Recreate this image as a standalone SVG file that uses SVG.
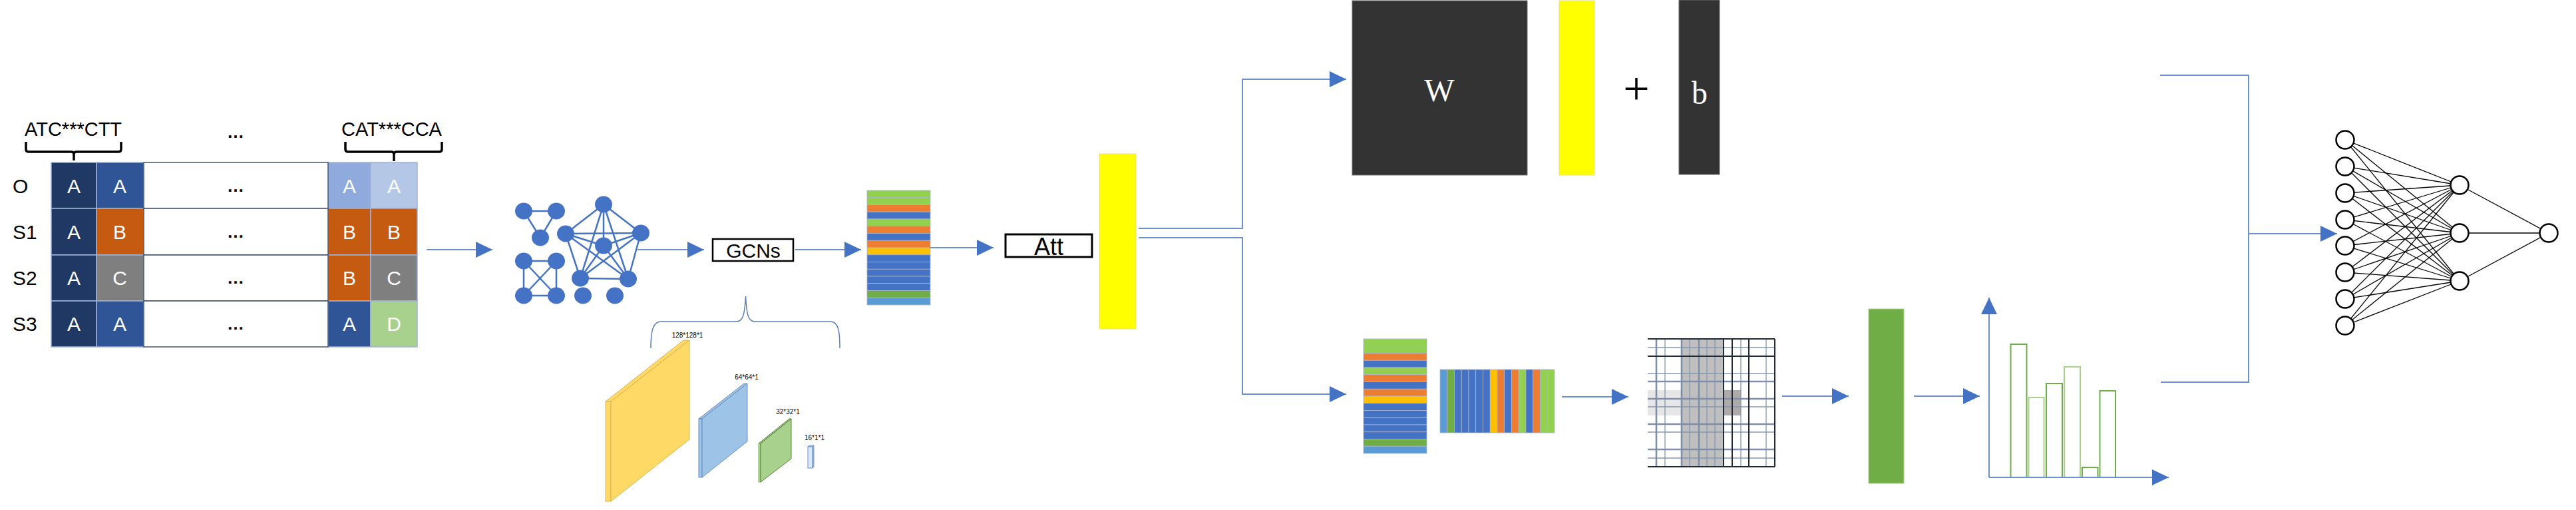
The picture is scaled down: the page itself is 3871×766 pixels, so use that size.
<svg xmlns="http://www.w3.org/2000/svg" xmlns:xlink="http://www.w3.org/1999/xlink" width="3871" height="766" viewBox="0 0 3871 766">
<style>
.lbl{font-family:"Liberation Sans",Arial,sans-serif;fill:#000}
.cell{font-family:"Liberation Sans",Arial,sans-serif;font-size:30px;fill:#fff;text-anchor:middle}
.row{font-family:"Liberation Sans",Arial,sans-serif;font-size:30px;fill:#000}
.dots{font-family:"Liberation Sans",Arial,sans-serif;font-size:26px;font-weight:bold;fill:#000;text-anchor:middle}
.ser{font-family:"Liberation Serif","Times New Roman",serif;text-anchor:middle}
.conn{fill:none;stroke:#6F8FCF;stroke-width:2}
.gnode{fill:#4472C4}
.gedge{stroke:#4472C4;stroke-width:2.5}
.nn{fill:#fff;stroke:#000;stroke-width:2.5}
.nnl{stroke:#000;stroke-width:1.3}
.st{stroke:#A9B6CE;stroke-width:0.8}
.brk{fill:none;stroke:#000;stroke-width:3.5}
.slab{font-family:"Liberation Sans",Arial,sans-serif;font-size:10px;fill:#000;text-anchor:middle}
.bar{fill:#fff;stroke-width:2}
</style>
<defs>
<marker id="ah" markerUnits="userSpaceOnUse" markerWidth="25" markerHeight="24" viewBox="0 0 25 24" refX="25" refY="12" orient="auto">
<path d="M0,0 L25,12 L0,24 z" fill="#4472C4"/>
</marker>
<g id="stripesV">
<rect class="st" x="0" y="0" width="95" height="10.75" fill="#92D050"/>
<rect class="st" x="0" y="10.75" width="95" height="10.75" fill="#92D050"/>
<rect class="st" x="0" y="21.5" width="95" height="10.75" fill="#ED7D31"/>
<rect class="st" x="0" y="32.25" width="95" height="10.75" fill="#4472C4"/>
<rect class="st" x="0" y="43" width="95" height="10.75" fill="#92D050"/>
<rect class="st" x="0" y="53.75" width="95" height="10.75" fill="#ED7D31"/>
<rect class="st" x="0" y="64.5" width="95" height="10.75" fill="#4472C4"/>
<rect class="st" x="0" y="75.25" width="95" height="10.75" fill="#ED7D31"/>
<rect class="st" x="0" y="86" width="95" height="10.75" fill="#FFC000"/>
<rect class="st" x="0" y="96.75" width="95" height="10.75" fill="#4472C4"/>
<rect class="st" x="0" y="107.5" width="95" height="10.75" fill="#4472C4"/>
<rect class="st" x="0" y="118.25" width="95" height="10.75" fill="#4472C4"/>
<rect class="st" x="0" y="129" width="95" height="10.75" fill="#4472C4"/>
<rect class="st" x="0" y="139.75" width="95" height="10.75" fill="#4472C4"/>
<rect class="st" x="0" y="150.5" width="95" height="10.75" fill="#70AD47"/>
<rect class="st" x="0" y="161.25" width="95" height="10.75" fill="#5B9BD5"/>
</g>
</defs>
<rect x="0" y="0" width="3871" height="766" fill="#fff"/>

<g id="sequence-table">
<text class="lbl" x="37" y="204" font-size="29">ATC***CTT</text>
<text class="lbl" x="513" y="204" font-size="29">CAT***CCA</text>
<path class="brk" d="M39,213 V224 Q39,228 43,228 H107 Q111,228 111,232 V241 M111,232 Q111,228 115,228 H178 Q182,228 182,224 V213"/>
<path class="brk" d="M519,213 V224 Q519,228 523,228 H588 Q592,228 592,232 V242 M592,232 Q592,228 596,228 H660 Q664,228 664,224 V213"/>
<text class="dots" x="354" y="207">…</text>
<g stroke="#9FB3D6" stroke-width="1.5">
<rect x="77" y="244" width="68" height="69" fill="#1F3864"/>
<rect x="145" y="244" width="71" height="69" fill="#2F5597"/>
<rect x="493" y="244" width="64" height="69" fill="#8FAADC"/>
<rect x="557" y="244" width="70" height="69" fill="#B4C7E7"/>
<rect x="77" y="313" width="68" height="70" fill="#1F3864"/>
<rect x="145" y="313" width="71" height="70" fill="#C55A11"/>
<rect x="493" y="313" width="64" height="70" fill="#C55A11"/>
<rect x="557" y="313" width="70" height="70" fill="#C55A11"/>
<rect x="77" y="383" width="68" height="69" fill="#1F3864"/>
<rect x="145" y="383" width="71" height="69" fill="#7F7F7F"/>
<rect x="493" y="383" width="64" height="69" fill="#C55A11"/>
<rect x="557" y="383" width="70" height="69" fill="#7F7F7F"/>
<rect x="77" y="452" width="68" height="69" fill="#1F3864"/>
<rect x="145" y="452" width="71" height="69" fill="#2F5597"/>
<rect x="493" y="452" width="64" height="69" fill="#2F5597"/>
<rect x="557" y="452" width="70" height="69" fill="#A9D18E"/>
</g>
<g fill="#fff" stroke="#44546A" stroke-width="1.5">
<rect x="216" y="244" width="277" height="69"/>
<rect x="216" y="313" width="277" height="70"/>
<rect x="216" y="383" width="277" height="69"/>
<rect x="216" y="452" width="277" height="69"/>
</g>
<text class="row" x="19" y="290">O</text>
<text class="row" x="19" y="359">S1</text>
<text class="row" x="19" y="428">S2</text>
<text class="row" x="19" y="497">S3</text>
<text class="cell" x="111" y="290">A</text><text class="cell" x="180" y="290">A</text><text class="dots" x="354" y="288">…</text><text class="cell" x="525" y="290">A</text><text class="cell" x="592" y="290">A</text>
<text class="cell" x="111" y="359">A</text><text class="cell" x="180" y="359">B</text><text class="dots" x="354" y="357">…</text><text class="cell" x="525" y="359">B</text><text class="cell" x="592" y="359">B</text>
<text class="cell" x="111" y="428">A</text><text class="cell" x="180" y="428">C</text><text class="dots" x="354" y="426">…</text><text class="cell" x="525" y="428">B</text><text class="cell" x="592" y="428">C</text>
<text class="cell" x="111" y="497">A</text><text class="cell" x="180" y="497">A</text><text class="dots" x="354" y="495">…</text><text class="cell" x="525" y="497">A</text><text class="cell" x="592" y="497">D</text>
</g>

<g id="graph">
<g class="gedge">
<line x1="787" y1="317" x2="836" y2="317"/><line x1="787" y1="317" x2="812" y2="357"/><line x1="836" y1="317" x2="812" y2="357"/>
<line x1="787" y1="392" x2="836" y2="392"/><line x1="787" y1="392" x2="787" y2="444"/><line x1="836" y1="392" x2="836" y2="444"/><line x1="787" y1="444" x2="836" y2="444"/><line x1="787" y1="392" x2="836" y2="444"/><line x1="836" y1="392" x2="787" y2="444"/>
<line x1="907" y1="307" x2="850" y2="351"/><line x1="907" y1="307" x2="963" y2="350"/><line x1="907" y1="307" x2="907" y2="369"/><line x1="907" y1="307" x2="872" y2="418"/><line x1="907" y1="307" x2="944" y2="419"/>
<line x1="850" y1="351" x2="963" y2="350"/><line x1="850" y1="351" x2="907" y2="369"/><line x1="850" y1="351" x2="872" y2="418"/><line x1="850" y1="351" x2="944" y2="419"/>
<line x1="963" y1="350" x2="907" y2="369"/><line x1="963" y1="350" x2="872" y2="418"/><line x1="963" y1="350" x2="944" y2="419"/>
<line x1="907" y1="369" x2="872" y2="418"/><line x1="907" y1="369" x2="944" y2="419"/><line x1="872" y1="418" x2="944" y2="419"/>
</g>
<g class="gnode">
<ellipse cx="787" cy="317" rx="13" ry="12.5"/><ellipse cx="836" cy="317" rx="13" ry="12.5"/><ellipse cx="812" cy="357" rx="13" ry="12.5"/>
<ellipse cx="787" cy="392" rx="13" ry="12.5"/><ellipse cx="836" cy="392" rx="13" ry="12.5"/><ellipse cx="787" cy="444" rx="13" ry="12.5"/><ellipse cx="836" cy="444" rx="13" ry="12.5"/>
<ellipse cx="876" cy="444" rx="13" ry="12.5"/><ellipse cx="924" cy="444" rx="13" ry="12.5"/>
<ellipse cx="907" cy="307" rx="13" ry="12.5"/><ellipse cx="850" cy="351" rx="13" ry="12.5"/><ellipse cx="963" cy="350" rx="13" ry="12.5"/><ellipse cx="907" cy="369" rx="13" ry="12.5"/><ellipse cx="872" cy="418" rx="13" ry="12.5"/><ellipse cx="944" cy="419" rx="13" ry="12.5"/>
</g>
</g>

<g id="gcns">
<rect x="1071" y="359" width="121" height="33" fill="#fff" stroke="#000" stroke-width="2.5"/>
<text class="lbl" x="1132" y="387" font-size="30" text-anchor="middle">GCNs</text>
</g>

<g id="gcn-layers">
<path d="M978,523 C978,498 981,483 993,483 L1106,483 C1116,483 1119,475 1120.5,445 C1122,475 1125,483 1135,483 L1248,483 C1260,483 1262,498 1262,523" fill="none" stroke="#5B7DB5" stroke-width="1.5"/>
<polygon points="910,603 918,603 1036,511 1027,511" fill="#FFD966" stroke="#D6B656" stroke-width="1"/>
<rect x="910" y="603" width="8" height="150" fill="#FFD966" stroke="#D6B656" stroke-width="1"/>
<polygon points="918,603 1036,511 1036,660 918,753" fill="#FFD966" stroke="#D6B656" stroke-width="1"/>
<text class="slab" x="1033" y="507">128*128*1</text>
<polygon points="1050,629 1055,629 1123,576 1118,576" fill="#9DC3E6" stroke="#6C8EBF" stroke-width="1"/>
<rect x="1050" y="629" width="5" height="88" fill="#9DC3E6" stroke="#6C8EBF" stroke-width="1"/>
<polygon points="1055,629 1123,576 1123,663 1055,717" fill="#9DC3E6" stroke="#6C8EBF" stroke-width="1"/>
<text class="slab" x="1122" y="570">64*64*1</text>
<polygon points="1140,666 1143,666 1189,629 1186,629" fill="#A9D18E" stroke="#548235" stroke-width="1"/>
<rect x="1140" y="666" width="3" height="58" fill="#A9D18E" stroke="#82B366" stroke-width="1"/>
<polygon points="1143,666 1189,629 1189,689 1143,724" fill="#A9D18E" stroke="#548235" stroke-width="1"/>
<text class="slab" x="1184" y="622">32*32*1</text>
<polygon points="1214,671 1221,671 1223,669 1216,669" fill="#DAE8FC" stroke="#6C8EBF" stroke-width="1"/>
<rect x="1214" y="671" width="7" height="32" fill="#DAE8FC" stroke="#6C8EBF" stroke-width="1"/>
<polygon points="1221,671 1223,669 1223,701 1221,703" fill="#B4C7E7" stroke="#6C8EBF" stroke-width="1"/>
<text class="slab" x="1224" y="661">16*1*1</text>
</g>

<g id="embedding">
<use xlink:href="#stripesV" href="#stripesV" transform="translate(1303,286)"/>
</g>

<g id="att">
<rect x="1511" y="352" width="130" height="34" fill="#fff" stroke="#000" stroke-width="3"/>
<text class="lbl" x="1576" y="383" font-size="36" text-anchor="middle">Att</text>
</g>

<g id="att-vector">
<rect x="1652" y="231" width="55" height="263" fill="#FFFF00" stroke="#E6E08A" stroke-width="1"/>
</g>

<g id="linear">
<rect x="2032" y="1" width="263" height="262" fill="#333333" stroke="#6F6F6F" stroke-width="1"/>
<text class="ser" x="2163" y="152" font-size="48" fill="#fff">W</text>
<rect x="2343" y="1" width="53" height="262" fill="#FFFF00" stroke="#E6E08A" stroke-width="1"/>
<text class="ser" x="2459" y="157" font-size="70" fill="#000">+</text>
<rect x="2523" y="0" width="61" height="262" fill="#333333" stroke="#6F6F6F" stroke-width="1"/>
<text class="ser" x="2554" y="156" font-size="48" fill="#fff">b</text>
</g>

<g id="embedding-2">
<use xlink:href="#stripesV" href="#stripesV" transform="translate(2049,509)"/>
</g>

<g id="embedding-transposed">
<g transform="translate(2164,555)">
<rect class="st" x="0" y="0" width="10.75" height="95" fill="#5B9BD5"/>
<rect class="st" x="10.75" y="0" width="10.75" height="95" fill="#70AD47"/>
<rect class="st" x="21.5" y="0" width="10.75" height="95" fill="#4472C4"/>
<rect class="st" x="32.25" y="0" width="10.75" height="95" fill="#4472C4"/>
<rect class="st" x="43" y="0" width="10.75" height="95" fill="#4472C4"/>
<rect class="st" x="53.75" y="0" width="10.75" height="95" fill="#4472C4"/>
<rect class="st" x="64.5" y="0" width="10.75" height="95" fill="#4472C4"/>
<rect class="st" x="75.25" y="0" width="10.75" height="95" fill="#FFC000"/>
<rect class="st" x="86" y="0" width="10.75" height="95" fill="#ED7D31"/>
<rect class="st" x="96.75" y="0" width="10.75" height="95" fill="#4472C4"/>
<rect class="st" x="107.5" y="0" width="10.75" height="95" fill="#ED7D31"/>
<rect class="st" x="118.25" y="0" width="10.75" height="95" fill="#92D050"/>
<rect class="st" x="129" y="0" width="10.75" height="95" fill="#4472C4"/>
<rect class="st" x="139.75" y="0" width="10.75" height="95" fill="#ED7D31"/>
<rect class="st" x="150.5" y="0" width="10.75" height="95" fill="#92D050"/>
<rect class="st" x="161.25" y="0" width="10.75" height="95" fill="#92D050"/>
</g>
</g>

<g id="matrix">
<rect x="2527" y="509" width="63" height="192" fill="#BFBFBF"/>
<rect x="2476" y="586" width="51" height="38" fill="#E7E6E6"/>
<rect x="2590" y="586" width="26" height="38" fill="#AEAAAA"/>
<g stroke="#8497B0" stroke-width="1.3">
<line x1="2502" y1="509" x2="2502" y2="701"/><line x1="2539" y1="509" x2="2539" y2="701"/><line x1="2565" y1="509" x2="2565" y2="701"/><line x1="2577" y1="509" x2="2577" y2="701"/><line x1="2616" y1="509" x2="2616" y2="701"/><line x1="2654" y1="509" x2="2654" y2="701"/>
<line x1="2476" y1="522" x2="2667" y2="522"/><line x1="2476" y1="561" x2="2667" y2="561"/><line x1="2476" y1="611" x2="2667" y2="611"/><line x1="2476" y1="649" x2="2667" y2="649"/><line x1="2476" y1="688" x2="2667" y2="688"/>
</g>
<g stroke="#7F8FA9" stroke-width="2.6">
<line x1="2489" y1="509" x2="2489" y2="701"/><line x1="2527" y1="509" x2="2527" y2="701"/><line x1="2553" y1="509" x2="2553" y2="701"/>
<line x1="2476" y1="573" x2="2667" y2="573"/><line x1="2476" y1="599" x2="2667" y2="599"/><line x1="2476" y1="637" x2="2667" y2="637"/><line x1="2476" y1="675" x2="2667" y2="675"/>
</g>
<g stroke="#222A35" stroke-width="2">
<line x1="2590" y1="509" x2="2590" y2="701"/><line x1="2603" y1="509" x2="2603" y2="701"/><line x1="2628" y1="509" x2="2628" y2="701"/><line x1="2667" y1="509" x2="2667" y2="701"/>
<line x1="2476" y1="509" x2="2667" y2="509"/><line x1="2476" y1="535" x2="2667" y2="535"/><line x1="2476" y1="701" x2="2667" y2="701"/>
</g>
</g>

<g id="feature-vector">
<rect x="2808" y="464" width="53" height="262" fill="#70AD47" stroke="#A9D18E" stroke-width="1"/>
</g>

<g id="histogram">
<rect class="bar" x="3021.5" y="517" width="24" height="200" stroke="#70AD47"/>
<rect class="bar" x="3048.5" y="597" width="23" height="120" stroke="#A9D18E"/>
<rect class="bar" x="3075" y="576" width="24" height="141" stroke="#70AD47"/>
<rect class="bar" x="3102" y="551" width="24" height="166" stroke="#A9D18E"/>
<rect class="bar" x="3129" y="702" width="23.5" height="15" stroke="#70AD47"/>
<rect class="bar" x="3155.5" y="587" width="23.5" height="130" stroke="#70AD47"/>
</g>

<g id="mlp">
<g class="nnl">
<line x1="3524" y1="210" x2="3696" y2="278"/><line x1="3524" y1="210" x2="3696" y2="350"/><line x1="3524" y1="210" x2="3696" y2="422"/>
<line x1="3524" y1="250" x2="3696" y2="278"/><line x1="3524" y1="250" x2="3696" y2="350"/><line x1="3524" y1="250" x2="3696" y2="422"/>
<line x1="3524" y1="290" x2="3696" y2="278"/><line x1="3524" y1="290" x2="3696" y2="350"/><line x1="3524" y1="290" x2="3696" y2="422"/>
<line x1="3524" y1="330" x2="3696" y2="278"/><line x1="3524" y1="330" x2="3696" y2="350"/><line x1="3524" y1="330" x2="3696" y2="422"/>
<line x1="3524" y1="369" x2="3696" y2="278"/><line x1="3524" y1="369" x2="3696" y2="350"/><line x1="3524" y1="369" x2="3696" y2="422"/>
<line x1="3524" y1="409" x2="3696" y2="278"/><line x1="3524" y1="409" x2="3696" y2="350"/><line x1="3524" y1="409" x2="3696" y2="422"/>
<line x1="3524" y1="449" x2="3696" y2="278"/><line x1="3524" y1="449" x2="3696" y2="350"/><line x1="3524" y1="449" x2="3696" y2="422"/>
<line x1="3524" y1="489" x2="3696" y2="278"/><line x1="3524" y1="489" x2="3696" y2="350"/><line x1="3524" y1="489" x2="3696" y2="422"/>
<line x1="3696" y1="278" x2="3830" y2="350"/><line x1="3696" y1="350" x2="3830" y2="350"/><line x1="3696" y1="422" x2="3830" y2="350"/>
</g>
<g class="nn">
<ellipse cx="3524" cy="210" rx="13.5" ry="13.5"/><ellipse cx="3524" cy="250" rx="13.5" ry="13.5"/><ellipse cx="3524" cy="290" rx="13.5" ry="13.5"/><ellipse cx="3524" cy="330" rx="13.5" ry="13.5"/>
<ellipse cx="3524" cy="369" rx="13.5" ry="13.5"/><ellipse cx="3524" cy="409" rx="13.5" ry="13.5"/><ellipse cx="3524" cy="449" rx="13.5" ry="13.5"/><ellipse cx="3524" cy="489" rx="13.5" ry="13.5"/>
<ellipse cx="3696" cy="278" rx="13.5" ry="13.5"/><ellipse cx="3696" cy="350" rx="13.5" ry="13.5"/><ellipse cx="3696" cy="422" rx="13.5" ry="13.5"/>
<ellipse cx="3830" cy="350" rx="13.5" ry="13.5"/>
</g>
</g>

<g id="connectors">
<line class="conn" x1="641" y1="375" x2="740" y2="375" marker-end="url(#ah)"/>
<line class="conn" x1="958" y1="375" x2="1058" y2="375" marker-end="url(#ah)"/>
<line class="conn" x1="1195" y1="375" x2="1294" y2="375" marker-end="url(#ah)"/>
<line class="conn" x1="1398" y1="372" x2="1493" y2="372" marker-end="url(#ah)"/>
<path class="conn" d="M1711,343 H1867 V119 H2023" marker-end="url(#ah)"/>
<path class="conn" d="M1711,357 H1867 V592 H2023" marker-end="url(#ah)"/>
<line class="conn" x1="2347" y1="596" x2="2447" y2="596" marker-end="url(#ah)"/>
<line class="conn" x1="2678" y1="595" x2="2778" y2="595" marker-end="url(#ah)"/>
<line class="conn" x1="2876" y1="595" x2="2975" y2="595" marker-end="url(#ah)"/>
<line class="conn" x1="2989" y1="717" x2="2989" y2="447" marker-end="url(#ah)"/>
<line class="conn" x1="2989" y1="717" x2="3259" y2="717" marker-end="url(#ah)"/>
<path class="conn" d="M3246,113 H3379 V574 H3247"/>
<line class="conn" x1="3379" y1="351" x2="3512" y2="351" marker-end="url(#ah)"/>
</g>
</svg>
